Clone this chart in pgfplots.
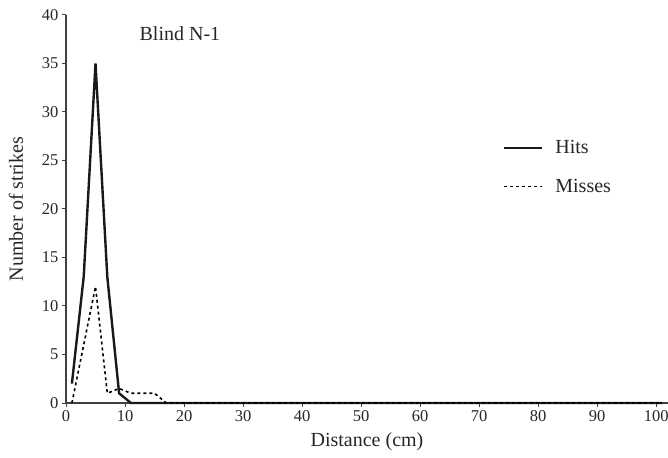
\documentclass[border=0pt]{standalone}
\usepackage{fontspec}
\setmainfont{Liberation Serif}
\usepackage{pgfplots}
\pgfplotsset{compat=1.18}
\begin{document}
\begin{tikzpicture}
\useasboundingbox (0,0) rectangle (668bp,458bp);
\begin{axis}[
  at={(66bp,55bp)}, anchor=origin,
  scale only axis, width=602bp, height=388bp,
  xmin=0, xmax=102, ymin=0, ymax=40,
  axis lines*=left,
  axis line style={line width=1.2bp, color=black!75},
  xtick={0,10,...,100}, ytick={0,5,...,40},
  tick style={line width=1bp, color=black!75},
  tick align=outside, major tick length=4bp,
  tick label style={font=\fontsize{16.5bp}{19bp}\selectfont, color=black!85},
  /pgf/number format/assume math mode=true,
  xlabel={Distance (cm)}, ylabel={Number of strikes},
  label style={font=\fontsize{20bp}{24bp}\selectfont, color=black!85},
  xlabel style={yshift=-4bp},
  ylabel style={yshift=12bp},
  clip=false,
  legend cell align=left,
  legend style={at={(axis cs:73.5,27.5)}, anchor=north west, draw=none, fill=none,
    font=\fontsize{20bp}{24bp}\selectfont, row sep=20bp, text=black!85},
  legend image code/.code={\draw[#1] (0bp,0bp) -- (38bp,0bp); \path (48bp,0bp);},
]
\addplot[line width=2.4bp, color=black!90, line join=miter] coordinates {
(1,2) (3,13) (5,35) (7,13) (9,1) (11,0) (13,0) (15,0) (17,0) (19,0) (21,0)
(31,0) (41,0) (51,0) (61,0) (71,0) (81,0) (91,0) (101,0)};
\addlegendentry{Hits}
\addplot[line width=1.6bp, color=black, dash pattern=on 3bp off 3bp] coordinates {
(1,0) (3,6) (5,12) (7,1) (9,1.5) (11,1) (13,1) (15,1) (17,0) (19,0) (21,0)
(31,0) (41,0) (51,0) (61,0) (71,0) (81,0) (91,0) (101,0)};
\addlegendentry{Misses}
\node[font=\fontsize{20bp}{24bp}\selectfont, color=black!85] at (axis cs:19.3,38.1) {Blind N-1};
\end{axis}
\end{tikzpicture}
\end{document}
